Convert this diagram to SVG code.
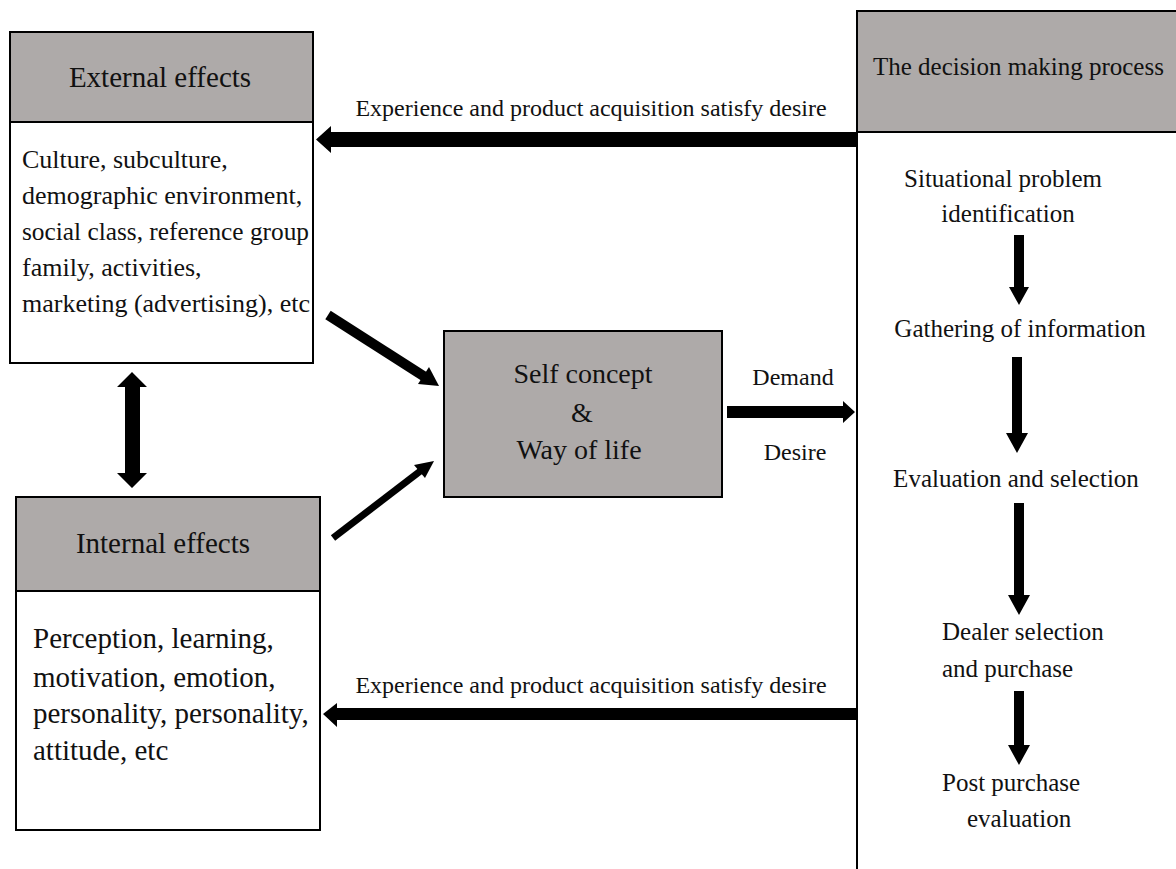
<svg xmlns="http://www.w3.org/2000/svg" width="1176" height="869" viewBox="0 0 1176 869">
<style>
.box{fill:#ffffff;stroke:#000;stroke-width:2}
.hdr{fill:#aeaaa9;stroke:#000;stroke-width:2}
text{font-family:"Liberation Serif","Times New Roman",serif;fill:#111}
.h{font-size:29px}
.l{font-size:26px}
.i{font-size:29px}
.r{font-size:25px}
.c{font-size:28px}
.lab{font-size:24px}
.arr{fill:#000;stroke:none}
</style>
<rect width="1176" height="869" fill="#fff"/>
<g id="external">
<rect class="box" x="10" y="32" width="303" height="331"/>
<rect class="hdr" x="10" y="32" width="303" height="90"/>
<text class="h" x="160" y="87" text-anchor="middle">External effects</text>
<text class="l" x="22" y="168">Culture, subculture,</text>
<text class="l" x="22" y="204">demographic environment,</text>
<text class="l" x="22" y="240" textLength="287" lengthAdjust="spacingAndGlyphs">social class, reference group</text>
<text class="l" x="22" y="276">family, activities,</text>
<text class="l" x="22" y="312">marketing (advertising), etc</text>
</g>
<g id="internal">
<rect class="box" x="16" y="497" width="304" height="333"/>
<rect class="hdr" x="16" y="497" width="304" height="94"/>
<text class="h" x="163" y="553" text-anchor="middle">Internal effects</text>
<text class="i" x="33" y="648">Perception, learning,</text>
<text class="i" x="33" y="687">motivation, emotion,</text>
<text class="i" x="33" y="723">personality, personality,</text>
<text class="i" x="33" y="760">attitude, etc</text>
</g>
<g id="self">
<rect class="hdr" x="444" y="331" width="278" height="166"/>
<text class="c" x="583" y="383" text-anchor="middle">Self concept</text>
<text class="c" x="582" y="422" text-anchor="middle">&amp;</text>
<text class="c" x="579" y="459" text-anchor="middle">Way of life</text>
</g>
<g id="decision">
<rect class="box" x="857" y="11" width="330" height="870"/>
<rect class="hdr" x="857" y="11" width="330" height="121"/>
<text class="r" x="873" y="75">The decision making process</text>
<text class="r" x="1003" y="187" text-anchor="middle">Situational problem</text>
<text class="r" x="1008" y="222" text-anchor="middle">identification</text>
<text class="r" x="1020" y="337" text-anchor="middle">Gathering of information</text>
<text class="r" x="1016" y="487" text-anchor="middle">Evaluation and selection</text>
<text class="r" x="942" y="640">Dealer selection</text>
<text class="r" x="942" y="677">and purchase</text>
<text class="r" x="942" y="791">Post purchase</text>
<text class="r" x="967" y="827">evaluation</text>
<polygon class="arr" points="1014,235 1024,235 1024,287 1029,287 1019,305 1009,287 1014,287"/>
<polygon class="arr" points="1012,357 1022,357 1022,433 1028,433 1017,453 1006,433 1012,433"/>
<polygon class="arr" points="1014,503 1024,503 1024,595 1030,595 1019,615 1008,595 1014,595"/>
<polygon class="arr" points="1014,691 1024,691 1024,745 1030,745 1019,765 1008,745 1014,745"/>
</g>
<g id="connectors">
<polygon class="arr" points="856,132 331,132 331,126 316,139.5 331,153 331,147 856,147"/>
<text class="lab" x="591" y="116" text-anchor="middle">Experience and product acquisition satisfy desire</text>
<polygon class="arr" points="856,708 337,708 337,703 323,714 337,727 337,720 856,720"/>
<text class="lab" x="591" y="693" text-anchor="middle">Experience and product acquisition satisfy desire</text>
<polygon class="arr" points="727,406 843,406 843,401 855,412 843,423 843,418 727,418"/>
<text class="lab" x="793" y="385" text-anchor="middle">Demand</text>
<text class="lab" x="795" y="460" text-anchor="middle">Desire</text>
<polygon class="arr" points="125,387 117,387 132,372 147,387 140,387 140,473 147,473 132,488 117,473 125,473"/>
<line x1="328" y1="315" x2="425" y2="377" stroke="#000" stroke-width="10"/>
<polygon class="arr" points="439,386 418,384 429,367"/>
<line x1="333" y1="538" x2="423" y2="469" stroke="#000" stroke-width="7"/>
<polygon class="arr" points="434,461 425,478 414,465"/>
</g>
</svg>
